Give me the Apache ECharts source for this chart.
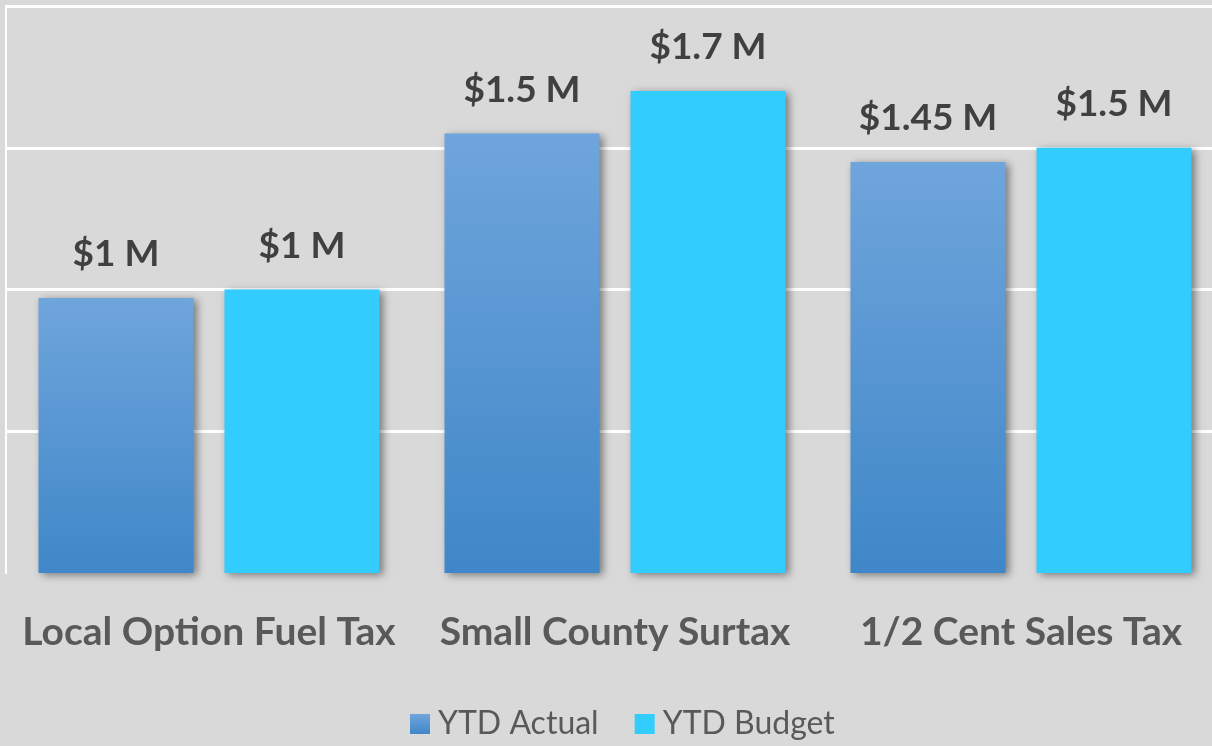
<!DOCTYPE html>
<html>
<head>
<meta charset="utf-8">
<script src="https://cdn.jsdelivr.net/npm/echarts@6/dist/echarts.min.js"></script>
<style>
  html, body { margin: 0; padding: 0; background: #d9d9d9; }
  #chart { width: 1212px; height: 746px; }
</style>
</head>
<body>
<div id="chart"></div>
<script>
// categories and values (millions of dollars)
const categories = ['Local Option Fuel Tax', 'Small County Surtax', '1/2 Cent Sales Tax'];
const ytdActual = [0.97, 1.55, 1.45];
const ytdBudget = [1.0, 1.7, 1.5];
// label text as shown on the chart
const actualLabels = ['$1 M', '$1.5 M', '$1.45 M'];
const budgetLabels = ['$1 M', '$1.7 M', '$1.5 M'];

const chart = echarts.init(document.getElementById('chart'));

const labelStyle = (texts) => ({
    show: true,
    position: 'top',
    distance: 25,
    fontFamily: 'Lato',
    fontWeight: 'bold',
    fontSize: 37,
    color: '#404040',
    formatter: (p) => texts[p.dataIndex]
});

const option = {
    backgroundColor: '#d9d9d9',
    animation: false,
    grid: { left: 6, width: 1218, top: 6, bottom: 173, outerBoundsMode: 'none' },
    legend: {
        bottom: 1,
        left: 405,
        itemWidth: 20,
        itemHeight: 20,
        itemGap: 36,
        icon: 'rect',
        textStyle: { fontFamily: 'Lato', fontSize: 32, color: '#595959', padding: [0, 0, 0, 3] },
        data: ['YTD Actual', 'YTD Budget']
    },
    xAxis: {
        type: 'category',
        data: categories,
        axisLine: { show: false },
        axisTick: { show: false },
        axisLabel: {
            interval: 0,
            margin: 40,
            fontFamily: 'Lato',
            fontWeight: 'bold',
            fontSize: 39,
            color: '#595959'
        }
    },
    yAxis: {
        type: 'value',
        min: 0,
        max: 2,
        interval: 0.5,
        axisLabel: { show: false },
        axisTick: { show: false },
        axisLine: { show: true, lineStyle: { color: '#ffffff', width: 2 } },
        // skip the line at zero
        splitLine: { lineStyle: { color: ['transparent', '#ffffff', '#ffffff', '#ffffff', '#ffffff'], width: 3 } }
    },
    series: [
        {
            name: 'YTD Actual',
            type: 'bar',
            barWidth: 155,
            barGap: '20%',
            data: ytdActual,
            itemStyle: {
                color: new echarts.graphic.LinearGradient(0, 0, 0, 1, [
                    { offset: 0, color: '#6fa5dc' },
                    { offset: 1, color: '#3f87c8' }
                ]),
                shadowColor: 'rgba(0,0,0,0.45)',
                shadowBlur: 8,
                shadowOffsetX: 3,
                shadowOffsetY: 2
            },
            label: labelStyle(actualLabels)
        },
        {
            name: 'YTD Budget',
            type: 'bar',
            barWidth: 155,
            data: ytdBudget,
            itemStyle: {
                color: '#33ccff',
                shadowColor: 'rgba(0,0,0,0.45)',
                shadowBlur: 8,
                shadowOffsetX: 3,
                shadowOffsetY: 2
            },
            label: labelStyle(budgetLabels)
        }
    ]
};

chart.setOption(option);
</script>
</body>
</html>
